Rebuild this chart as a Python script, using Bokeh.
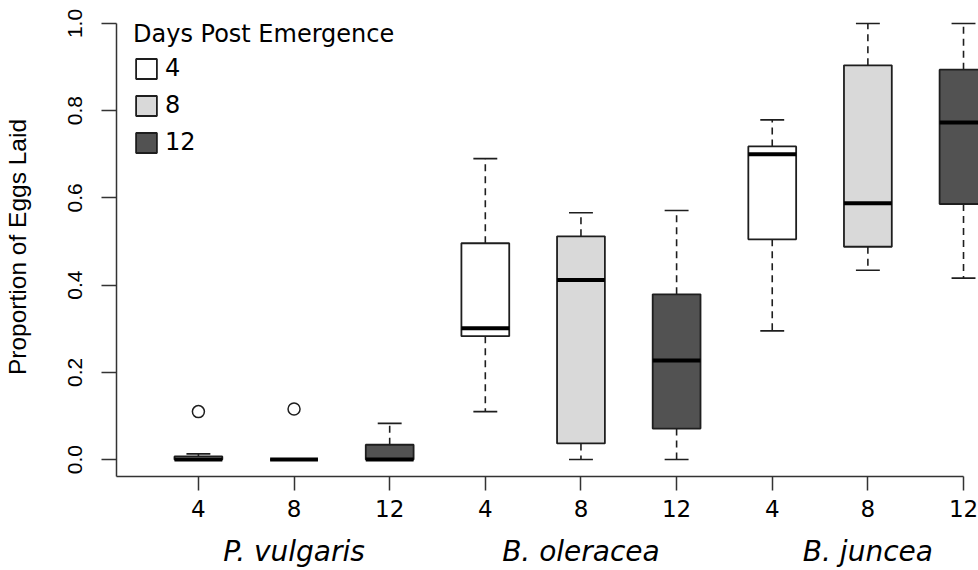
from bokeh.plotting import figure
from bokeh.models import (Range1d, FixedTicker, LinearAxis, Legend, LegendItem,
                          PrintfTickFormatter, ColumnDataSource)
from bokeh.embed import file_html
from bokeh.resources import INLINE

# ---------------- data ----------------
species = ["P. vulgaris", "B. oleracea", "B. juncea"]
days = ["4", "8", "12"]
fills = ["#ffffff", "#d9d9d9", "#525252"]

box_lo = [0.000, 0.000, 0.000, 0.110, 0.000, 0.000, 0.295, 0.434, 0.416]
box_q1 = [0.000, 0.000, 0.000, 0.283, 0.037, 0.071, 0.505, 0.488, 0.586]
box_med = [0.000, 0.000, 0.000, 0.301, 0.412, 0.227, 0.700, 0.588, 0.773]
box_q3 = [0.007, 0.000, 0.034, 0.496, 0.512, 0.379, 0.718, 0.904, 0.894]
box_hi = [0.013, 0.000, 0.083, 0.690, 0.566, 0.571, 0.779, 1.000, 1.000]

out_box = [1, 2]          # box number (1-based) of each outlier
out_val = [0.110, 0.116]

y_ticks = [0.0, 0.2, 0.4, 0.6, 0.8, 1.0]

# ---------------- layout ----------------
n_d = len(days)
pos = [i * n_d + j + 1 for i in range(len(species)) for j in range(n_d)]
day_lab = [days[j] for i in range(len(species)) for j in range(n_d)]
grp_pos = [sum(pos[i * n_d:(i + 1) * n_d]) / n_d for i in range(len(species))]

W, H = 978, 570
ML, MB, MT = 115, 92, 17
px_x = 95.75                 # pixels per box position
px_y = 438.0                 # pixels per unit proportion
x0 = 1 - 82 / px_x
x1 = x0 + (W - ML) / px_x
y0 = -17 / px_y
y1 = y0 + (H - MB - MT) / px_y

half = 0.25
cap = 0.125

p = figure(width=W, height=H, x_range=Range1d(x0, x1), y_range=Range1d(y0, y1),
           output_backend="svg", toolbar_location=None,
           min_border_left=ML, min_border_right=0, min_border_top=MT,
           min_border_bottom=MB)
p.xgrid.visible = False
p.ygrid.visible = False
p.outline_line_color = None
p.background_fill_color = "white"

src = ColumnDataSource(dict(
    x=pos, lo=box_lo, q1=box_q1, med=box_med, q3=box_q3, hi=box_hi,
    l=[v - half for v in pos], r=[v + half for v in pos],
    cl=[v - cap for v in pos], cr=[v + cap for v in pos],
))

ink = "#1e1e1e"
# whiskers (dashed)
p.segment(x0="x", y0="q3", x1="x", y1="hi", source=src, line_color=ink,
          line_width=1.6, line_dash="7 5")
p.segment(x0="x", y0="q1", x1="x", y1="lo", source=src, line_color=ink,
          line_width=1.6, line_dash="7 5")
# caps
p.segment(x0="cl", y0="hi", x1="cr", y1="hi", source=src, line_color=ink, line_width=1.6)
p.segment(x0="cl", y0="lo", x1="cr", y1="lo", source=src, line_color=ink, line_width=1.6)

# boxes, one renderer per day
box_r = []
for j in range(n_d):
    idx = [k for k in range(len(pos)) if k % n_d == j]
    s = ColumnDataSource(dict(
        left=[pos[k] - half for k in idx], right=[pos[k] + half for k in idx],
        bottom=[box_q1[k] for k in idx], top=[box_q3[k] for k in idx]))
    r = p.quad(left="left", right="right", bottom="bottom", top="top", source=s,
               fill_color=fills[j], line_color=ink, line_width=1.8)
    box_r.append(r)

# medians
p.segment(x0="l", y0="med", x1="r", y1="med", source=src, line_color="black",
          line_width=4, line_cap="butt")

# outliers
p.scatter(x=[pos[b - 1] for b in out_box], y=out_val, marker="circle", size=12,
          fill_color=None, line_color=ink, line_width=1.5)

# ---------------- axes ----------------
xa = p.xaxis[0]
xa.ticker = FixedTicker(ticks=pos)
xa.major_label_overrides = {pos[k]: day_lab[k] for k in range(len(pos))}
xa.bounds = (x0, pos[-1])
xa.minor_tick_line_color = None
xa.major_tick_in = 0
xa.major_tick_out = 14
xa.major_label_standoff = 9
xa.major_label_text_font = "DejaVu Sans"
xa.major_label_text_font_size = "23px"
xa.major_label_text_color = "black"
xa.axis_line_color = "#333333"
xa.axis_line_width = 1.5
xa.major_tick_line_color = "#333333"
xa.major_tick_line_width = 1.5

ga = LinearAxis(ticker=FixedTicker(ticks=grp_pos),
                major_label_overrides={grp_pos[i]: species[i] for i in range(len(species))})
ga.axis_line_color = None
ga.major_tick_line_color = None
ga.minor_tick_line_color = None
ga.major_tick_in = 0
ga.major_tick_out = 0
ga.major_label_standoff = 15
ga.major_label_text_font = "DejaVu Sans"
ga.major_label_text_font_style = "italic"
ga.major_label_text_font_size = "28px"
ga.major_label_text_color = "black"
p.add_layout(ga, "below")

ya = p.yaxis[0]
ya.ticker = FixedTicker(ticks=y_ticks)
ya.formatter = PrintfTickFormatter(format="%.1f")
ya.bounds = (y0, y_ticks[-1])
ya.minor_tick_line_color = None
ya.major_tick_in = 0
ya.major_tick_out = 15
ya.major_label_orientation = "vertical"
ya.major_label_standoff = 19
ya.major_label_text_font = "Liberation Sans"
ya.major_label_text_font_size = "21px"
ya.major_label_text_color = "black"
ya.axis_label = "Proportion of Eggs Laid"
ya.axis_label_text_font = "Liberation Sans"
ya.axis_label_text_font_size = "24.5px"
ya.axis_label_text_font_style = "normal"
ya.axis_label_text_color = "black"
ya.axis_label_standoff = 35
ya.axis_line_color = "#333333"
ya.axis_line_width = 1.5
ya.major_tick_line_color = "#333333"
ya.major_tick_line_width = 1.5

# ---------------- legend ----------------
legend = Legend(items=[LegendItem(label=days[j], renderers=[box_r[j]]) for j in range(n_d)],
                location=(17, 320), title="Days Post Emergence")
legend.title_text_font = "DejaVu Sans"
legend.title_text_font_size = "24px"
legend.title_text_font_style = "normal"
legend.title_text_color = "black"
legend.title_standoff = 6
legend.label_text_font = "DejaVu Sans"
legend.label_text_font_size = "24px"
legend.label_text_color = "black"
legend.glyph_width = 26
legend.glyph_height = 25
legend.label_standoff = 6
legend.spacing = 9
legend.padding = 0
legend.margin = 0
legend.border_line_alpha = 0
legend.background_fill_alpha = 0
p.add_layout(legend)

open("out.html", "w").write(file_html(p, INLINE))
